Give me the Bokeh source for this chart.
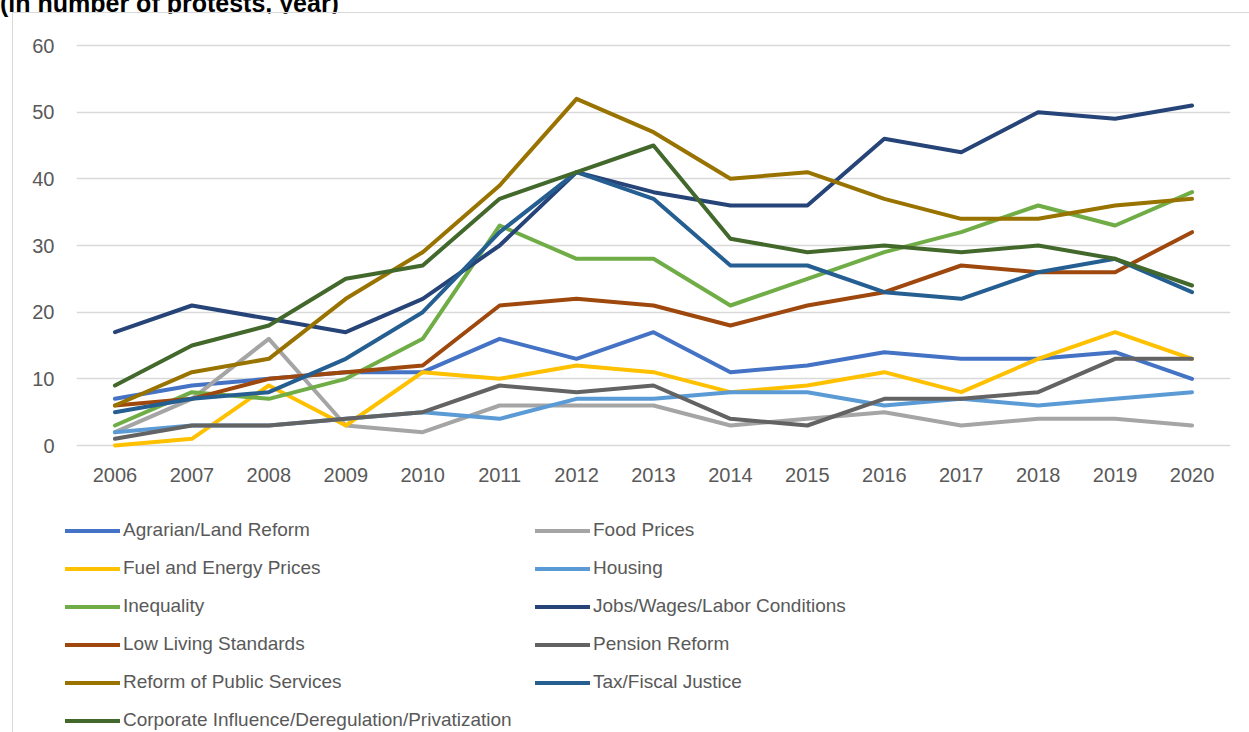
from bokeh.plotting import figure
from bokeh.models import Range1d, FixedTicker, Legend, LegendItem, ColumnDataSource, Div
from bokeh.layouts import column, row
from bokeh.embed import file_html
from bokeh.resources import INLINE

years = list(range(2006, 2021))

agrarian = [7, 9, 10, 11, 11, 16, 13, 17, 11, 12, 14, 13, 13, 14, 10]
food = [2, 7, 16, 3, 2, 6, 6, 6, 3, 4, 5, 3, 4, 4, 3]
fuel = [0, 1, 9, 3, 11, 10, 12, 11, 8, 9, 11, 8, 13, 17, 13]
housing = [2, 3, 3, 4, 5, 4, 7, 7, 8, 8, 6, 7, 6, 7, 8]
inequality = [3, 8, 7, 10, 16, 33, 28, 28, 21, 25, 29, 32, 36, 33, 38]
jobs = [17, 21, 19, 17, 22, 30, 41, 38, 36, 36, 46, 44, 50, 49, 51]
low_living = [6, 7, 10, 11, 12, 21, 22, 21, 18, 21, 23, 27, 26, 26, 32]
pension = [1, 3, 3, 4, 5, 9, 8, 9, 4, 3, 7, 7, 8, 13, 13]
reform = [6, 11, 13, 22, 29, 39, 52, 47, 40, 41, 37, 34, 34, 36, 37]
tax = [5, 7, 8, 13, 20, 32, 41, 37, 27, 27, 23, 22, 26, 28, 23]
corporate = [9, 15, 18, 25, 27, 37, 41, 45, 31, 29, 30, 29, 30, 28, 24]

series_names = [
    "Agrarian/Land Reform", "Food Prices", "Fuel and Energy Prices", "Housing",
    "Inequality", "Jobs/Wages/Labor Conditions", "Low Living Standards",
    "Pension Reform", "Reform of Public Services", "Tax/Fiscal Justice",
    "Corporate Influence/Deregulation/Privatization",
]
series_values = [agrarian, food, fuel, housing, inequality, jobs, low_living,
                 pension, reform, tax, corporate]
series_colors = ["#4472C4", "#A5A5A5", "#FFC000", "#5B9BD5", "#70AD47", "#264478",
                 "#9E480E", "#636363", "#997300", "#255E91", "#43682B"]
y_ticks = [0, 10, 20, 30, 40, 50, 60]
title_text = "(in number of protests, year)"

FONT = "Liberation Sans"
TEXT_COLOR = "#595959"

sources = [ColumnDataSource(dict(x=years, y=vals)) for vals in series_values]

# ---------------- title fragment (cut off at the top of the page) ----------------
title = Div(text=('<div style="margin-top:-17px; white-space:nowrap; '
                  'font-family:\'Liberation Sans\'; font-weight:bold; font-size:25px; '
                  'line-height:22px; color:#000000;">' + title_text + '</div>'),
            width=600, height=12, margin=(0, 0, 0, 0),
            styles={"overflow": "visible"})

# ---------------- main chart ----------------
p = figure(width=1236, height=487, output_backend="svg", toolbar_location=None,
           x_range=Range1d(2005.5, 2020.5), y_range=Range1d(-0.6, 60.6),
           min_border_left=63, min_border_right=19, min_border_top=28,
           min_border_bottom=51)
p.outline_line_color = None
p.background_fill_color = "white"
p.border_fill_color = "white"

for src, col in zip(sources, series_colors):
    p.line("x", "y", source=src, line_color=col, line_width=4,
           line_join="round", line_cap="round")

p.xaxis.ticker = FixedTicker(ticks=years)
p.yaxis.ticker = FixedTicker(ticks=y_ticks)
for ax in (p.xaxis, p.yaxis):
    ax.axis_line_color = None
    ax.major_tick_line_color = None
    ax.minor_tick_line_color = None
    ax.major_tick_out = 0
    ax.major_tick_in = 0
    ax.minor_tick_out = 0
    ax.major_label_text_font = FONT
    ax.major_label_text_font_size = "20px"
    ax.major_label_text_color = TEXT_COLOR
p.xaxis.major_label_standoff = 18
p.yaxis.major_label_standoff = 22

p.xgrid.grid_line_color = None
p.ygrid.grid_line_color = "#d9d9d9"
p.ygrid.grid_line_width = 1.5

# ---------------- legend strip ----------------
lg = figure(width=1236, height=232, output_backend="svg", toolbar_location=None,
            x_range=Range1d(0, 1), y_range=Range1d(0, 1),
            x_axis_type=None, y_axis_type=None,
            min_border_left=0, min_border_right=0, min_border_top=0,
            min_border_bottom=0)
lg.outline_line_color = None
lg.background_fill_color = "white"
lg.border_fill_color = "white"
lg.grid.visible = False

legend_renderers = {}
for name, src, col in zip(series_names, sources, series_colors):
    legend_renderers[name] = lg.line("x", "y", source=src, line_color=col,
                                     line_width=4, line_cap="round")

# the legend fills column by column: left column first, then right column
legend_order = [0, 2, 4, 6, 8, 10, 1, 3, 5, 7, 9]
items = [LegendItem(label=series_names[i],
                    renderers=[legend_renderers[series_names[i]]])
         for i in legend_order]

legend = Legend(items=items, ncols=2, location=(52, -4.5),
                margin=0, padding=0, spacing=5,
                glyph_width=55, glyph_height=33, label_height=33,
                label_width=407, label_standoff=3,
                label_text_font=FONT, label_text_font_size="19px",
                label_text_color=TEXT_COLOR, label_text_baseline="middle",
                border_line_color=None, background_fill_alpha=0)
lg.add_layout(legend)

chart = column(p, row(lg, spacing=0), spacing=0)
chart.margin = (0, 0, 0, 12)
chart.styles = {"border-left": "1px solid #d9d9d9", "border-top": "1px solid #d9d9d9"}

layout = column(title, chart, spacing=0)
layout.margin = (0, 0, 0, 0)

open("out.html", "w").write(file_html(layout, INLINE))
